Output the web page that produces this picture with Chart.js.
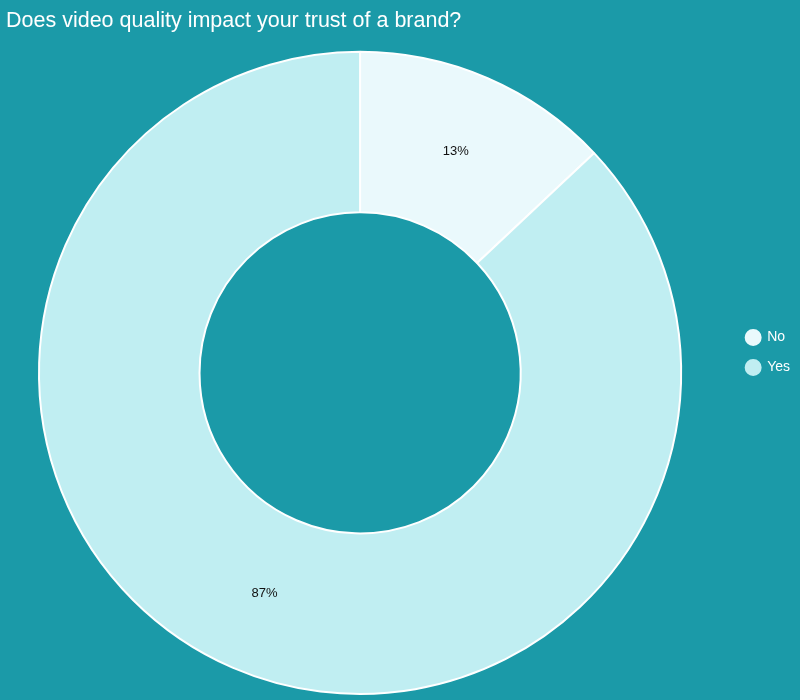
<!DOCTYPE html>
<html>
<head>
  <title>Video quality and brand trust</title>
  <script src="https://cdn.jsdelivr.net/npm/chart.js"></script>
  <style>
    html, body { margin: 0; padding: 0; background: #1b9aa8; }
    #wrap { width: 800px; height: 700px; }
  </style>
</head>
<body>
  <div id="wrap"><canvas id="trustChart" width="800" height="700"></canvas></div>

  <script>
    const labels = ['No', 'Yes'];
    const shares = [13, 87];
    const sliceColors = ['#eaf9fc', '#c0eef2'];

    // draws the percentage at the middle of each slice
    const percentLabels = {
      id: 'percentLabels',
      afterDatasetsDraw(chart) {
        const ctx = chart.ctx;
        const meta = chart.getDatasetMeta(0);
        ctx.save();
        ctx.font = '13px "Liberation Sans", Arial, sans-serif';
        ctx.fillStyle = '#111';
        ctx.textAlign = 'center';
        ctx.textBaseline = 'middle';
        meta.data.forEach((arc, i) => {
          const p = arc.tooltipPosition();
          ctx.fillText(shares[i] + '%', p.x, p.y);
        });
        ctx.restore();
      }
    };

    // wider gap between ring and legend, legend nudged down a little
    const legendGap = {
      id: 'legendGap',
      afterLayout(chart) {
        const a = chart.chartArea;
        a.right -= 16;
        a.width = a.right - a.left;
        chart.legend.top += 5;
        chart.legend.bottom += 5;
      }
    };

    Chart.defaults.font.family = '"Liberation Sans", Arial, sans-serif';

    new Chart(document.getElementById('trustChart'), {
      type: 'doughnut',
      data: {
        labels: labels,
        datasets: [{
          data: shares,
          backgroundColor: sliceColors,
          borderColor: '#ffffff',
          borderWidth: 2,
          clip: false
        }]
      },
      options: {
        responsive: false,
        animation: false,
        cutout: '50%',
        layout: { padding: { top: 0, bottom: 5, left: 6, right: 0 } },
        plugins: {
          title: {
            display: true,
            text: 'Does video quality impact your trust of a brand?',
            align: 'start',
            color: '#ffffff',
            font: { size: 21.5, weight: 'normal' },
            padding: { top: 8, bottom: 17 }
          },
          legend: {
            position: 'right',
            labels: {
              color: '#ffffff',
              usePointStyle: true,
              pointStyle: 'circle',
              boxWidth: 14,
              boxHeight: 10.6,
              padding: 16,
              font: { size: 14 },
              generateLabels(chart) {
                const items = Chart.overrides.doughnut.plugins.legend.labels.generateLabels(chart);
                items.forEach(it => { it.strokeStyle = it.fillStyle; });
                return items;
              }
            }
          },
          tooltip: { enabled: false }
        }
      },
      plugins: [percentLabels, legendGap]
    });
  </script>
</body>
</html>
